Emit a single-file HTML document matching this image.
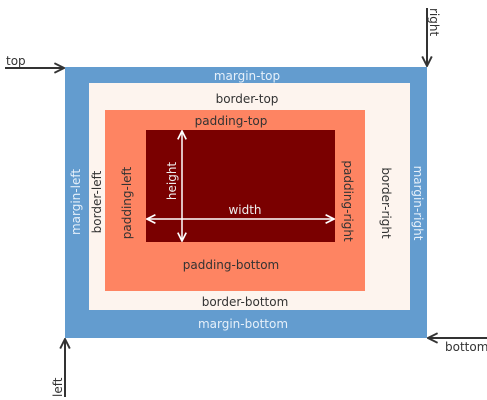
<!DOCTYPE html>
<html><head><meta charset="utf-8"><style>
body{margin:0;background:#fff;}
svg{display:block;font-family:"DejaVu Sans","Liberation Sans",sans-serif;font-size:12px;}
</style></head><body>
<svg width="487" height="400" viewBox="0 0 487 400">
<defs>
<marker id="ad" viewBox="0 0 10 10" refX="9" refY="5" markerWidth="6" markerHeight="6" orient="auto-start-reverse"><path d="M1,1 L9,5 L1,9" fill="none" stroke="#333" stroke-width="1.6"/></marker>
<marker id="aw" viewBox="0 0 10 10" refX="9" refY="5" markerWidth="7" markerHeight="7" orient="auto-start-reverse"><path d="M1,1 L9,5 L1,9" fill="none" stroke="#fff" stroke-width="1.6"/></marker>
</defs>
<rect x="65" y="67" width="362" height="271" fill="#639ccf"/>
<rect x="89" y="83" width="321" height="227" fill="#fdf4ee"/>
<rect x="105" y="110" width="260" height="181" fill="#fe8462"/>
<rect x="146" y="130" width="189" height="112" fill="#7a0000"/>

<g text-anchor="middle">
<text x="247" y="80" fill="#e6f0fa">margin-top</text>
<text x="247" y="103" fill="#333">border-top</text>
<text x="231" y="125" fill="#333">padding-top</text>
<text x="245" y="214" fill="#eee">width</text>
<text x="231" y="269" fill="#333">padding-bottom</text>
<text x="245" y="306" fill="#333">border-bottom</text>
<text x="243" y="328" fill="#e6f0fa">margin-bottom</text>
<text transform="translate(80,202) rotate(-90)" fill="#e6f0fa">margin-left</text>
<text transform="translate(101,202) rotate(-90)" fill="#333">border-left</text>
<text transform="translate(131,203) rotate(-90)" fill="#333">padding-left</text>
<text transform="translate(176,181) rotate(-90)" fill="#eee">height</text>
<text transform="translate(344,201) rotate(90)" fill="#333">padding-right</text>
<text transform="translate(382,203) rotate(90)" fill="#333">border-right</text>
<text transform="translate(414,203) rotate(90)" fill="#e6f0fa">margin-right</text>
</g>

<line x1="147" y1="219" x2="334" y2="219" stroke="#fff" stroke-width="1.5" marker-start="url(#aw)" marker-end="url(#aw)"/>
<line x1="182" y1="131" x2="182" y2="241" stroke="#fff" stroke-width="1.5" marker-start="url(#aw)" marker-end="url(#aw)"/>

<line x1="5" y1="68" x2="64" y2="68" stroke="#333" stroke-width="2" marker-end="url(#ad)"/>
<text x="6" y="65" fill="#333">top</text>
<line x1="427" y1="8" x2="427" y2="66" stroke="#333" stroke-width="2" marker-end="url(#ad)"/>
<text transform="translate(430,8) rotate(90)" fill="#333">right</text>
<line x1="487" y1="338" x2="428" y2="338" stroke="#333" stroke-width="2" marker-end="url(#ad)"/>
<text x="445" y="351" fill="#333">bottom</text>
<line x1="65" y1="397" x2="65" y2="339" stroke="#333" stroke-width="2" marker-end="url(#ad)"/>
<text transform="translate(62,397) rotate(-90)" fill="#333">left</text>
</svg>
</body></html>
